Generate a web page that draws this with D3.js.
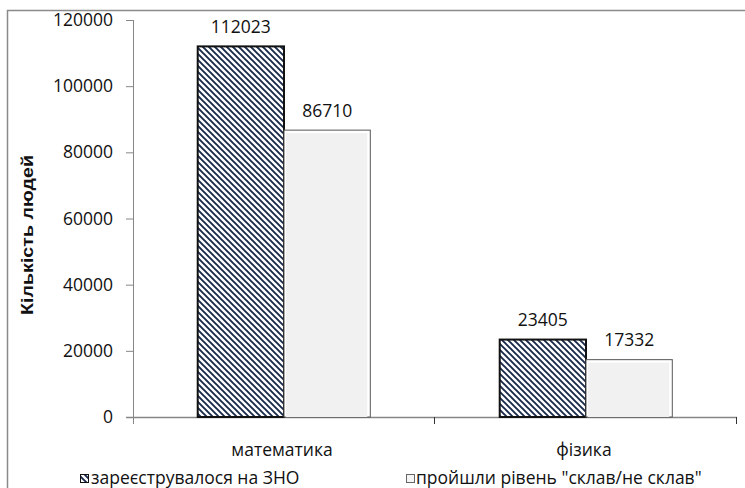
<!DOCTYPE html>
<html><head><meta charset="utf-8">
<script src="https://cdn.jsdelivr.net/npm/d3@7"></script>
<style>body{margin:0;background:#fff}svg{display:block}text{font-family:"Open Sans",sans-serif;fill:#111}</style>
</head><body><svg id="c" width="745" height="488"></svg>
<script>
const categories = ["математика", "фізика"];
const seriesNames = ["зареєструвалося на ЗНО", "пройшли рівень \"склав/не склав\""];
const registered = [112023, 23405];
const passed = [86710, 17332];
const yTicks = [0, 20000, 40000, 60000, 80000, 100000, 120000];
const yTitle = "Кількість людей";

const svg = d3.select("#c");
const axisColor = "#868686";
const fs = 17.5;
const defs = svg.append("defs");
const pat = defs.append("pattern").attr("id","hatch").attr("patternUnits","userSpaceOnUse")
  .attr("width",6).attr("height",6);
pat.append("rect").attr("width",6).attr("height",6).attr("fill","#fff");
pat.append("path").attr("d","M0,0L6,6M-1,5L1,7M5,-1L7,1").attr("stroke","#18294a").attr("stroke-width",1.9);

// outer border
svg.append("path").attr("d","M7.5,500V10.5H760").attr("fill","none").attr("stroke","#8a8a8a").attr("stroke-width",1.5);

const y = d3.scaleLinear().domain([0,120000]).range([417,20]);
const x0 = d3.scaleBand().domain(categories).range([133,737]);
const bw = x0.bandwidth();
const x1 = d3.scaleBand().domain([0,1]).range([bw*0.75/3.5, bw*2.75/3.5]);

// y axis
const ya = svg.append("g").attr("transform","translate(133,0)")
  .call(d3.axisLeft(y).tickValues(yTicks).tickFormat(d3.format("d")).tickSize(7).tickSizeOuter(0).tickPadding(13));
ya.select(".domain").remove();
ya.selectAll("line").attr("stroke",axisColor);
ya.selectAll("text").attr("font-size",fs).attr("fill","#111").style("font-family","Open Sans");
svg.append("line").attr("x1",133.5).attr("x2",133.5).attr("y1",y(120000)).attr("y2",424).attr("stroke",axisColor);

// x axis
svg.append("line").attr("x1",126).attr("x2",737).attr("y1",417.5).attr("y2",417.5).attr("stroke",axisColor).attr("stroke-width",1.5);
const bounds = categories.map(c=>x0(c)+bw);
svg.selectAll(".xt").data(bounds).join("line")
  .attr("x1",d=>d-0.5).attr("x2",d=>d-0.5).attr("y1",417).attr("y2",424).attr("stroke","#333");
svg.selectAll(".xl").data(categories).join("text")
  .attr("x",d=>x0(d)+bw/2-2).attr("y",456).attr("text-anchor","middle").attr("font-size",fs).text(d=>d);

// bars
const data = [registered, passed];
categories.forEach((c,i)=>{
  const g = svg.append("g");
  const xa = x0(c)+x1(0), w = x1.bandwidth();
  g.append("rect").attr("x",xa).attr("y",y(registered[i])).attr("width",w).attr("height",y(0)-y(registered[i]))
    .attr("fill","url(#hatch)").attr("stroke","#111").attr("stroke-width",2);
  const xb = x0(c)+x1(1);
  g.append("rect").attr("x",xb).attr("y",y(passed[i])).attr("width",w).attr("height",y(0)-y(passed[i]))
    .attr("fill","#fff").attr("stroke","#555").attr("stroke-width",1);
  g.append("rect").attr("x",xb+2).attr("y",y(passed[i])+3).attr("width",w-5).attr("height",y(0)-y(passed[i])-3)
    .attr("fill","#f1f1f1");
  data.forEach((s,k)=>{
    g.append("text").attr("x",x0(c)+x1(k)+w/2).attr("y",y(s[i])-13.5).attr("text-anchor","middle")
      .attr("font-size",fs).text(s[i]);
  });
});

// y title
svg.append("text").attr("transform","translate(33,235) rotate(-90)").attr("text-anchor","middle")
  .attr("font-size",17).attr("font-weight","bold").style("font-family","Liberation Sans")
  .attr("textLength",160).attr("lengthAdjust","spacingAndGlyphs").text(yTitle);

// legend
const leg = [{x:80, fill:"url(#hatch)", stroke:"#111", tx:91},{x:406, fill:"#f5f5f5", stroke:"#666", tx:416}];
leg.forEach((l,k)=>{
  svg.append("rect").attr("x",l.x+0.5).attr("y",474.5).attr("width",8).attr("height",8).attr("fill",l.fill).attr("stroke",l.stroke).attr("stroke-width",1);
  svg.append("text").attr("x",l.tx).attr("y",484).attr("font-size",fs).text(seriesNames[k]);
});
</script></body></html>
